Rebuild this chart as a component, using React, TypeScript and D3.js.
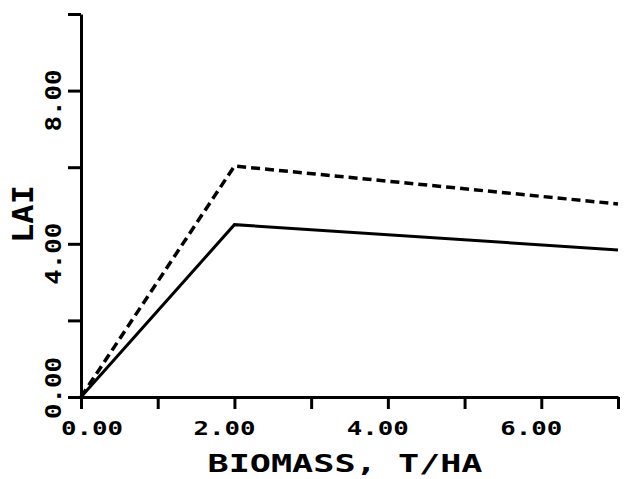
import React, { useEffect, useRef } from 'react';
import * as d3 from 'd3';

// LAI vs biomass, two curves
const biomass = [0, 2, 7];
const laiSolid = [0, 4.5, 3.84];
const laiDashed = [0, 6.03, 5.04];

const xTicks = [0, 1, 2, 3, 4, 5, 6, 7];
const xTickLabels = ['0.00', '', '2.00', '', '4.00', '', '6.00', ''];
const yTicks = [0, 2, 4, 6, 8, 10];
const yTickLabels = ['0.00', '', '4.00', '', '8.00', ''];

const xTitle = 'BIOMASS, T/HA';
const yTitle = 'LAI';

export default function App() {
  const width = 624;
  const height = 479;
  const margin = { top: 14, right: 6, bottom: 82, left: 81 };
  const font = '"DejaVu Sans Mono", monospace';

  const ref = useRef<SVGSVGElement>(null);

  useEffect(() => {
    if (!ref.current) return;
    const svg = d3.select(ref.current);
    svg.selectAll('*').remove();

    const x = d3.scaleLinear().domain([0, 7]).range([margin.left, width - margin.right]);
    const y = d3.scaleLinear().domain([0, 10]).range([height - margin.bottom, margin.top]);

    // x axis
    const gx = svg.append('g')
      .attr('transform', `translate(0,${y(0)})`)
      .call(d3.axisBottom(x).tickValues(xTicks).tickSize(12).tickSizeOuter(0).tickFormat(() => ''));
    gx.select('.domain').attr('stroke', '#000').attr('stroke-width', 3);
    gx.selectAll('.tick line').attr('stroke', '#000').attr('stroke-width', 3);

    // y axis
    const gy = svg.append('g')
      .attr('transform', `translate(${x(0)},0)`)
      .call(d3.axisLeft(y).tickValues(yTicks).tickSize(13).tickSizeOuter(0).tickFormat(() => ''));
    gy.select('.domain').attr('stroke', '#000').attr('stroke-width', 3);
    gy.selectAll('.tick line').attr('stroke', '#000').attr('stroke-width', 3);

    // x tick labels
    xTicks.forEach((v, i) => {
      const t = xTickLabels[i];
      if (!t) return;
      const shift = v === 0 ? 11 : -10;
      svg.append('text')
        .attr('x', x(v) + shift)
        .attr('y', 435)
        .attr('text-anchor', 'middle')
        .attr('font-family', font)
        .attr('font-weight', 'bold')
        .attr('font-size', 20)
        .attr('textLength', 62)
        .attr('lengthAdjust', 'spacingAndGlyphs')
        .text(t);
    });

    // y tick labels (rotated)
    yTicks.forEach((v, i) => {
      const t = yTickLabels[i];
      if (!t) return;
      const shift = v === 0 ? -9 : 10;
      const cy = y(v) + shift;
      svg.append('text')
        .attr('transform', `translate(61,${cy}) rotate(-90)`)
        .attr('text-anchor', 'middle')
        .attr('font-family', font)
        .attr('font-weight', 'bold')
        .attr('font-size', 21)
        .attr('textLength', 62)
        .attr('lengthAdjust', 'spacingAndGlyphs')
        .text(t);
    });

    // axis titles
    svg.append('text')
      .attr('x', 345)
      .attr('y', 472)
      .attr('text-anchor', 'middle')
      .attr('font-family', font)
      .attr('font-weight', 'bold')
      .attr('font-size', 24)
      .attr('textLength', 275)
      .attr('lengthAdjust', 'spacingAndGlyphs')
      .text(xTitle);

    svg.append('text')
      .attr('transform', `translate(33,214) rotate(-90)`)
      .attr('text-anchor', 'middle')
      .attr('font-family', font)
      .attr('font-weight', 'bold')
      .attr('font-size', 28)
      .attr('textLength', 58)
      .attr('lengthAdjust', 'spacingAndGlyphs')
      .text(yTitle);

    const line = d3.line<number>()
      .x((_, i) => x(biomass[i]))
      .y(d => y(d));

    svg.append('path')
      .datum(laiSolid)
      .attr('fill', 'none')
      .attr('stroke', '#000')
      .attr('stroke-width', 3)
      .attr('d', line);

    svg.append('path')
      .datum(laiDashed)
      .attr('fill', 'none')
      .attr('stroke', '#000')
      .attr('stroke-width', 3.5)
      .attr('stroke-dasharray', '9,5')
      .attr('d', line);
  // eslint-disable-next-line react-hooks/exhaustive-deps
  }, []);

  return (
    <svg
      ref={ref}
      width={width}
      height={height}
      style={{ position: 'absolute', left: 0, top: 0, background: '#fff' }}
    ></svg>
  );
}
